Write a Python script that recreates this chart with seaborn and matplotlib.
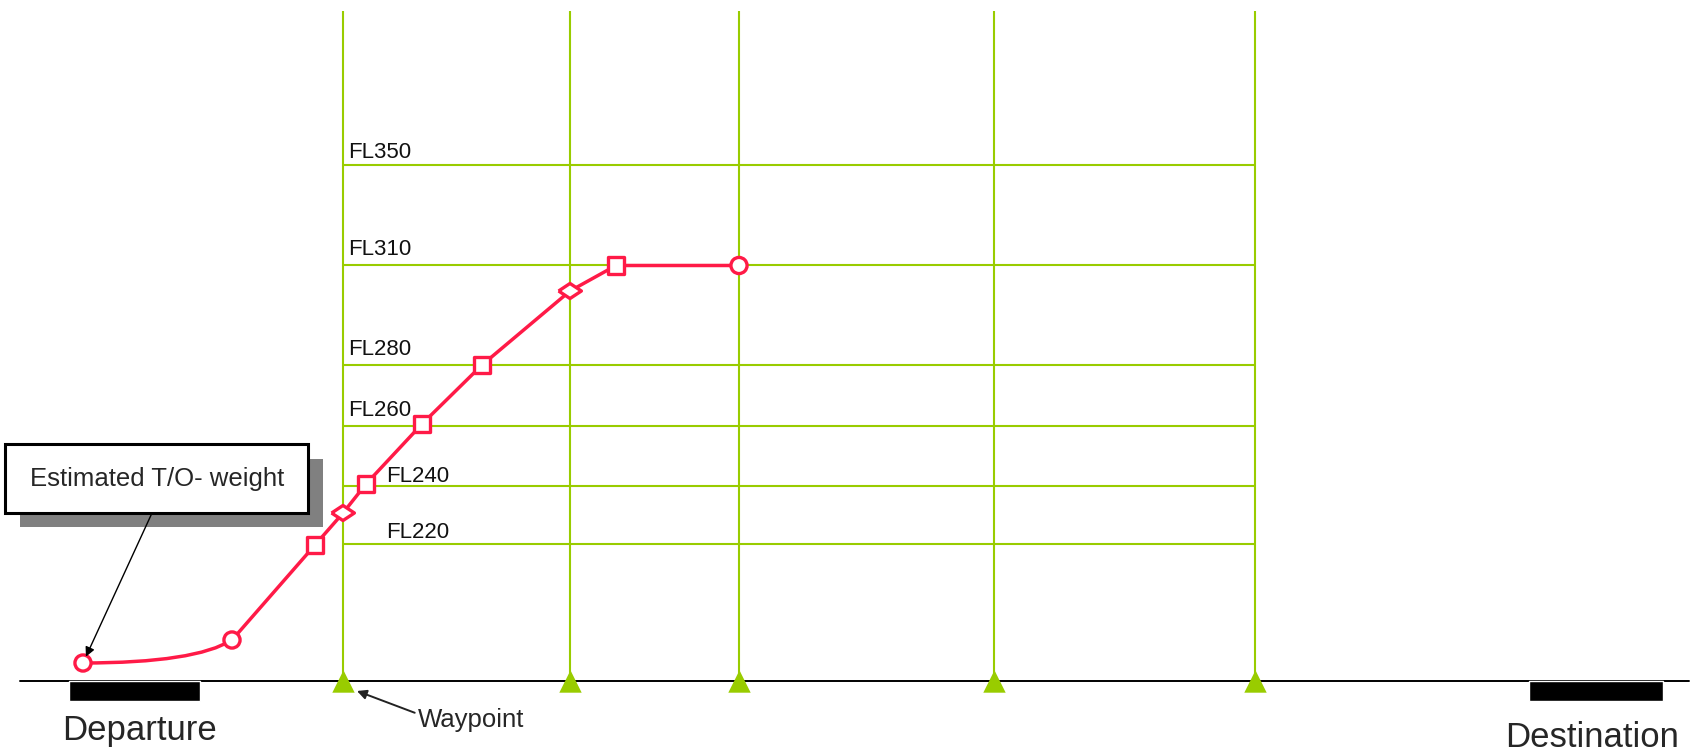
import numpy as np
import pandas as pd
import matplotlib.pyplot as plt
from matplotlib.patches import Rectangle
import seaborn as sns

# route drawing units: x = distance along route, y = schematic height above ground
waypoint_x = [34.3, 57.0, 73.9, 99.4, 125.5]

levels = ["FL220", "FL240", "FL260", "FL280", "FL310", "FL350"]
level_y = [13.7, 19.5, 25.5, 31.6, 41.55, 51.6]

profile_x = [8.3, 23.2, 31.5, 34.3, 36.6, 42.2, 48.2, 57.0, 61.6, 73.9]
profile_y = [1.8, 4.1, 13.6, 16.8, 19.7, 25.7, 31.6, 39.0, 41.55, 41.55]
profile_kind = ["circle", "circle", "square", "diamond", "square",
                "square", "square", "diamond", "square", "circle"]

airports = ["Departure", "Destination"]
airport_start = [6.9, 152.9]
airport_end = [20.0, 166.3]

RED = "#FF1A47"
GREEN = "#99CC00"

sns.set_theme(style="white")
plt.rcParams["font.family"] = ["Liberation Sans", "DejaVu Sans"]

fig = plt.figure(figsize=(16.92, 7.52), dpi=100)
ax = fig.add_axes([0, 0, 1, 1])
ax.set_xlim(0, 169.2)
ax.set_ylim(-7.1, 68.1)
ax.axis("off")

# grid of waypoints and flight levels
ax.vlines(waypoint_x, 0, 67.0, color=GREEN, lw=1.5, zorder=1)
ax.hlines(level_y, waypoint_x[0], waypoint_x[-1], color=GREEN, lw=1.5, zorder=1)
label_x = {"FL220": 38.6, "FL240": 38.6}
label_dy = {"FL220": 0.6, "FL240": 0.4, "FL350": 0.7}
for name, y in zip(levels, level_y):
    ax.text(label_x.get(name, 34.8), y + label_dy.get(name, 1.0), name,
            fontsize=16, ha="left", va="baseline", color="#111111", zorder=2)

# ground and airports
ax.plot([2.0, 168.9], [0, 0], color="black", lw=1.4, zorder=3)
ax.bar(airport_start, -1.95, width=np.subtract(airport_end, airport_start),
       align="edge", color="black", zorder=3)
ax.text(13.95, -5.9, airports[0], fontsize=25, ha="center", va="baseline")
ax.text(159.2, -6.6, airports[1], fontsize=25, ha="center", va="baseline")

sns.scatterplot(x=waypoint_x, y=np.zeros(len(waypoint_x)), marker="^", s=260,
                color=GREEN, edgecolor=GREEN, linewidth=0, ax=ax, zorder=4)

# climb profile
ax.annotate("", xy=(profile_x[1], profile_y[1]), xytext=(profile_x[0], profile_y[0]),
            arrowprops=dict(arrowstyle="-", color=RED, lw=2.5, shrinkA=0, shrinkB=0,
                            connectionstyle="angle3,angleA=0,angleB=32"),
            zorder=5)
sns.lineplot(x=profile_x[1:], y=profile_y[1:], color=RED, lw=2.5, sort=False,
             estimator=None, ax=ax, zorder=5)

profile = pd.DataFrame({"x": profile_x, "y": profile_y, "kind": profile_kind})
flat_diamond = [(-1, 0), (0, 0.66), (1, 0), (0, -0.66), (-1, 0)]
sns.scatterplot(data=profile, x="x", y="y", style="kind", size="kind",
                markers={"circle": "o", "square": "s", "diamond": flat_diamond},
                sizes={"circle": 135, "square": 145, "diamond": 270},
                facecolor="white", edgecolor=RED, linewidth=2.4,
                legend=False, ax=ax, zorder=6)

# callout box with drop shadow
ax.add_patch(Rectangle((2.0, 15.4), 30.3, 6.8, facecolor="#808080",
                       edgecolor="none", zorder=7))
ax.add_patch(Rectangle((0.5, 16.8), 30.3, 6.9, facecolor="white",
                       edgecolor="black", lw=2.2, zorder=8))
ax.text(15.7, 20.2, "Estimated T/O- weight", fontsize=18.5, ha="center",
        va="center", zorder=9)
ax.annotate("", xy=(profile_x[0], profile_y[0]), xytext=(15.2, 16.8),
            arrowprops=dict(arrowstyle="-|>", color="black", lw=1.0,
                            mutation_scale=14, shrinkA=0, shrinkB=5),
            zorder=9)

ax.annotate("Waypoint", xy=(waypoint_x[0] + 1.4, -1.0), xytext=(41.8, -4.6),
            fontsize=18.5, ha="left", va="baseline",
            arrowprops=dict(arrowstyle="-|>", color="#222222", lw=1.4,
                            mutation_scale=14, shrinkA=0, shrinkB=0,
                            relpos=(0, 0.75)))

plt.savefig("out.png", dpi=100)
